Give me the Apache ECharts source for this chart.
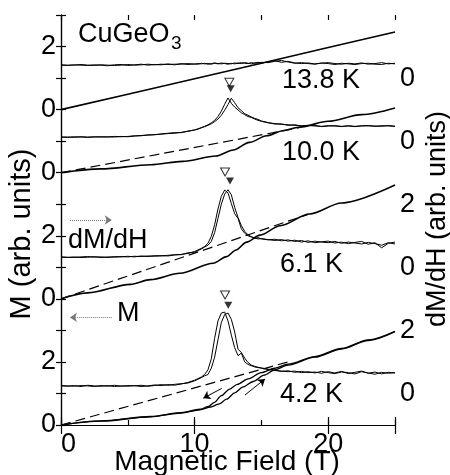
<!DOCTYPE html>
<html>
<head>
<meta charset="utf-8">
<title>CuGeO3 magnetization</title>
<script src="https://cdn.jsdelivr.net/npm/echarts@6.0.0/dist/echarts.min.js"></script>
<style>
  html, body { margin: 0; padding: 0; background: #fff; }
  #chart { width: 450px; height: 475px; }
</style>
</head>
<body>
<div id="chart"></div>
<script>
// ---- data ----
// field grid (T) shared by the dM/dH sweeps
var fields = [0, 0.5, 1, 1.5, 2, 2.5, 3, 3.5, 4, 4.5, 5, 5.5, 6, 6.5, 7, 7.5, 8, 8.5, 9, 9.5, 10,
  10.25, 10.5, 10.75, 11, 11.25, 11.5, 11.75, 12, 12.25, 12.5, 12.75, 13, 13.25, 13.5, 13.75, 14, 14.25, 14.5, 14.75, 15,
  15.5, 16, 16.5, 17, 17.5, 18, 18.5, 19, 19.5, 20, 20.5, 21, 21.5, 22, 22.5, 23, 23.5, 24, 24.5, 25];

// dM/dH, right-axis units (each temperature has its own zero)
var dmdh138Up = [0.41, 0.40, 0.42, 0.41, 0.40, 0.42, 0.41, 0.39, 0.42, 0.43, 0.40, 0.42, 0.44, 0.41, 0.43, 0.42, 0.45, 0.42, 0.46, 0.43, 0.45,
  0.44, 0.47, 0.45, 0.46, 0.44, 0.47, 0.45, 0.48, 0.46, 0.44, 0.47, 0.45, 0.48, 0.46, 0.49, 0.47, 0.45, 0.48, 0.50, 0.47,
  0.52, 0.55, 0.50, 0.53, 0.48, 0.46, 0.48, 0.45, 0.47, 0.49, 0.46, 0.44, 0.47, 0.45, 0.48, 0.44, 0.46, 0.49, 0.45, 0.47];
var dmdh138Down = [0.42, 0.41, 0.41, 0.43, 0.41, 0.40, 0.42, 0.41, 0.40, 0.41, 0.43, 0.41, 0.42, 0.44, 0.42, 0.44, 0.43, 0.44, 0.44, 0.46, 0.44,
  0.46, 0.45, 0.47, 0.44, 0.46, 0.48, 0.46, 0.45, 0.47, 0.46, 0.45, 0.48, 0.46, 0.49, 0.47, 0.46, 0.49, 0.47, 0.48, 0.50,
  0.49, 0.53, 0.56, 0.51, 0.47, 0.49, 0.46, 0.44, 0.48, 0.46, 0.43, 0.47, 0.45, 0.43, 0.46, 0.47, 0.44, 0.43, 0.47, 0.45];

var dmdh100Up = [0.13, 0.13, 0.12, 0.14, 0.13, 0.13, 0.14, 0.13, 0.15, 0.14, 0.15, 0.17, 0.17, 0.20, 0.20, 0.23, 0.25, 0.27, 0.27, 0.32, 0.35,
  0.38, 0.42, 0.46, 0.50, 0.55, 0.62, 0.70, 0.82, 0.98, 1.16, 1.36, 1.22, 1.06, 0.97, 0.87, 0.82, 0.77, 0.72, 0.69, 0.64,
  0.59, 0.54, 0.55, 0.50, 0.52, 0.48, 0.49, 0.50, 0.46, 0.48, 0.49, 0.47, 0.48, 0.46, 0.49, 0.48, 0.48, 0.47, 0.50, 0.47];
var dmdh100Down = [0.13, 0.12, 0.14, 0.13, 0.12, 0.14, 0.13, 0.14, 0.13, 0.15, 0.14, 0.16, 0.18, 0.19, 0.21, 0.22, 0.24, 0.25, 0.28, 0.31, 0.36,
  0.39, 0.43, 0.47, 0.52, 0.58, 0.66, 0.78, 0.95, 1.17, 1.37, 1.20, 1.08, 0.99, 0.90, 0.84, 0.78, 0.75, 0.70, 0.66, 0.63,
  0.58, 0.56, 0.53, 0.52, 0.50, 0.49, 0.50, 0.48, 0.47, 0.49, 0.48, 0.46, 0.49, 0.47, 0.48, 0.50, 0.47, 0.49, 0.48, 0.47];

var dmdh61Up = [0.33, 0.32, 0.31, 0.33, 0.34, 0.32, 0.33, 0.31, 0.34, 0.33, 0.35, 0.33, 0.36, 0.34, 0.37, 0.36, 0.38, 0.40, 0.40, 0.46, 0.48,
  0.53, 0.58, 0.64, 0.70, 0.82, 1.10, 1.55, 2.00, 2.32, 2.46, 2.30, 1.90, 1.58, 1.32, 1.14, 1.03, 0.97, 0.93, 0.90, 0.91,
  0.88, 0.85, 0.88, 0.83, 0.86, 0.80, 0.84, 0.78, 0.81, 0.83, 0.77, 0.80, 0.75, 0.79, 0.82, 0.73, 0.78, 0.62, 0.76, 0.80];
var dmdh61Down = [0.32, 0.31, 0.33, 0.31, 0.32, 0.34, 0.31, 0.33, 0.32, 0.34, 0.33, 0.35, 0.34, 0.36, 0.35, 0.37, 0.36, 0.39, 0.41, 0.44, 0.50,
  0.55, 0.60, 0.66, 0.76, 0.98, 1.35, 1.85, 2.25, 2.45, 2.36, 2.02, 1.70, 1.55, 1.22, 1.08, 1.00, 0.96, 0.92, 0.94, 0.90,
  0.87, 0.89, 0.84, 0.87, 0.82, 0.85, 0.79, 0.83, 0.80, 0.78, 0.82, 0.76, 0.80, 0.77, 0.74, 0.79, 0.75, 0.70, 0.78, 0.74];

var dmdh42Up = [0.25, 0.24, 0.23, 0.25, 0.24, 0.22, 0.25, 0.23, 0.26, 0.23, 0.25, 0.24, 0.26, 0.23, 0.25, 0.28, 0.26, 0.29, 0.31, 0.33, 0.40,
  0.45, 0.50, 0.56, 0.60, 0.80, 1.15, 1.70, 2.25, 2.50, 2.55, 2.35, 1.95, 1.40, 1.30, 1.12, 0.98, 0.90, 0.86, 0.83, 0.81,
  0.77, 0.74, 0.71, 0.69, 0.71, 0.66, 0.69, 0.65, 0.70, 0.66, 0.63, 0.68, 0.66, 0.62, 0.69, 0.65, 0.61, 0.67, 0.64, 0.66];
var dmdh42Down = [0.24, 0.23, 0.25, 0.22, 0.26, 0.24, 0.23, 0.25, 0.22, 0.24, 0.23, 0.25, 0.22, 0.24, 0.27, 0.25, 0.28, 0.26, 0.30, 0.35, 0.42,
  0.47, 0.52, 0.60, 0.75, 1.10, 1.75, 2.30, 2.55, 2.58, 2.30, 1.85, 1.45, 1.20, 1.28, 1.00, 0.92, 0.88, 0.84, 0.82, 0.80,
  0.76, 0.73, 0.70, 0.72, 0.67, 0.70, 0.66, 0.68, 0.64, 0.69, 0.65, 0.70, 0.63, 0.67, 0.71, 0.64, 0.68, 0.62, 0.67, 0.65];

// magnetization M, left-axis units (each temperature has its own zero)
var m138Field = [0, 5, 10, 15, 20, 25];
var m138 = [0, 0.49, 0.98, 1.47, 1.97, 2.46];
var m100Field = [0, 3, 6.7, 9.1, 11.6, 12.9, 14.1, 15.4, 16.6, 17.9, 20, 22.5, 25];
var m100 = [0, 0.12, 0.25, 0.36, 0.53, 0.72, 0.96, 1.17, 1.33, 1.45, 1.63, 1.84, 2.05];
var m61Field = [0, 2, 5.2, 6.7, 8.9, 11.4, 12.4, 13.1, 13.9, 14.9, 16.4, 18.6, 21, 25];
var m61 = [0, 0.19, 0.46, 0.61, 0.81, 1.13, 1.34, 1.55, 1.8, 2.02, 2.32, 2.69, 3.04, 3.61];
var m42UpField = [0, 3, 6.7, 9, 10.4, 11.2, 11.8, 12.4, 13, 13.6, 14.4, 15.2, 16, 17, 19, 21, 23, 25];
var m42Up = [0, 0.12, 0.26, 0.38, 0.48, 0.57, 0.66, 0.82, 1.02, 1.2, 1.38, 1.58, 1.75, 1.9, 2.15, 2.41, 2.68, 2.96];
var m42DownField = [0, 3, 6.7, 9, 10.4, 11, 11.5, 12, 12.6, 13.2, 14, 15, 16, 17, 19, 21, 23, 25];
var m42Down = [0, 0.13, 0.27, 0.39, 0.5, 0.58, 0.72, 0.93, 1.13, 1.29, 1.46, 1.66, 1.8, 1.93, 2.17, 2.43, 2.7, 2.97];

// dashed low-field extrapolations of M
var dash100Field = [0, 18];
var dash100 = [0, 1.44];
var dash61Field = [0, 18.5];
var dash61 = [0, 2.68];
var dash42Field = [0, 17];
var dash42 = [0, 2.0];

// transition field markers [field, dM/dH], open = down sweep, filled = up sweep
var openMarks = [[12.6, 1.87], [12.28, 3.02], [12.28, 3.12]];
var filledMarks = [[12.7, 1.66], [12.65, 2.74], [12.52, 2.8]];

// sweep arrows on the 4.2 K curve and the pointer arrows [from, to]
var sweepArrows = [[[12.03, 1.16], [10.65, 0.85]], [[13.77, 0.95], [15.27, 1.46]]];
var pointerArrows = [[[0.67, 6.5], [3.8, 6.5]], [[3.8, 3.41], [0.67, 3.41]]];

// tick labels
var leftLabels = { 0: '0', 2: '2', 4: '0', 6: '2', 8: '0', 10: '0', 12: '2' };
var rightLabels = { 1: '0', 3: '2', 5: '0', 7: '2', 9: '0', 11: '0' };
var xLabels = { 0: '0', 10: '10', 20: '20' };

// ---- layout: offsets of the stacked curves ----
var zeroM = { t138: 10, t100: 8, t61: 4, t42: 0 };
var zeroD = { t138: 11, t100: 9, t61: 5, t42: 1 };
var markZero = [zeroD.t100, zeroD.t61, zeroD.t42];

var FONT = '"Liberation Sans", Arial, Helvetica, sans-serif';

function shift(xs, ys, off) {
  var out = [];
  for (var i = 0; i < xs.length && i < ys.length; i++) {
    out.push([xs[i], ys[i] + off]);
  }
  return out;
}

function curve(data, width, dashed, smooth) {
  return {
    type: 'line',
    data: data,
    symbol: 'none',
    smooth: smooth ? 0.3 : false,
    smoothMonotone: 'x',
    silent: true,
    z: 3,
    lineStyle: { color: '#000', width: width, type: dashed ? [10, 5] : 'solid' }
  };
}

function text(str, x, y, size, opts) {
  opts = opts || {};
  return {
    type: 'text',
    x: x,
    y: y,
    rotation: opts.rotation || 0,
    silent: true,
    z: 20,
    style: {
      text: str,
      fill: '#000',
      font: size + 'px ' + FONT,
      align: opts.align || 'left',
      verticalAlign: 'middle'
    }
  };
}

var series = [
  // 13.8 K
  curve(shift(m138Field, m138, zeroM.t138), 1.6),
  curve(shift(fields, dmdh138Up, zeroD.t138), 1),
  curve(shift(fields, dmdh138Down, zeroD.t138), 1),
  // 10.0 K
  curve(shift(m100Field, m100, zeroM.t100), 1.6, false, true),
  curve(shift(dash100Field, dash100, zeroM.t100), 1.2, true),
  curve(shift(fields, dmdh100Up, zeroD.t100), 1),
  curve(shift(fields, dmdh100Down, zeroD.t100), 1),
  // 6.1 K
  curve(shift(m61Field, m61, zeroM.t61), 1.6, false, true),
  curve(shift(dash61Field, dash61, zeroM.t61), 1.2, true),
  curve(shift(fields, dmdh61Up, zeroD.t61), 1),
  curve(shift(fields, dmdh61Down, zeroD.t61), 1),
  // 4.2 K
  curve(shift(m42UpField, m42Up, zeroM.t42), 1.3, false, true),
  curve(shift(m42DownField, m42Down, zeroM.t42), 1.3, false, true),
  curve(shift(dash42Field, dash42, zeroM.t42), 1.2, true),
  curve(shift(fields, dmdh42Up, zeroD.t42), 1),
  curve(shift(fields, dmdh42Down, zeroD.t42), 1),
  {
    type: 'scatter',
    data: openMarks.map(function (p, i) { return [p[0], p[1] + markZero[i]]; }),
    symbol: 'triangle',
    symbolRotate: 180,
    symbolSize: [9, 8],
    silent: true,
    z: 5,
    itemStyle: { color: '#fff', borderColor: '#000', borderWidth: 1 }
  },
  {
    type: 'scatter',
    data: filledMarks.map(function (p, i) { return [p[0], p[1] + markZero[i]]; }),
    symbol: 'triangle',
    symbolRotate: 180,
    symbolSize: [8, 7],
    silent: true,
    z: 5,
    itemStyle: { color: '#000' }
  },
  {
    type: 'lines',
    coordinateSystem: 'cartesian2d',
    data: sweepArrows.map(function (c) { return { coords: c }; }),
    symbol: ['none', 'arrow'],
    symbolSize: 7,
    silent: true,
    z: 4,
    lineStyle: { color: '#000', width: 1, opacity: 1 }
  },
  {
    type: 'lines',
    coordinateSystem: 'cartesian2d',
    data: pointerArrows.map(function (c) { return { coords: c }; }),
    symbol: ['none', 'arrow'],
    symbolSize: 7,
    silent: true,
    z: 4,
    lineStyle: { color: '#777', width: 1, type: 'dotted', opacity: 1 }
  }
];

var axisLineStyle = { lineStyle: { color: '#000', width: 1.2 } };
var tickStyle = { lineStyle: { color: '#000', width: 1.2 } };
var labelStyle = { color: '#000', fontSize: 27, fontFamily: FONT };

var option = {
  animation: false,
  backgroundColor: '#fff',
  grid: [
    { left: 61, right: 55, top: 15, bottom: 50 },
    { left: 61, right: 55, top: 15, bottom: 50 }
  ],
  xAxis: [
    {
      type: 'value', gridIndex: 0, position: 'bottom', min: 0, max: 25, interval: 10,
      axisLine: axisLineStyle,
      axisTick: Object.assign({ inside: true, length: 8 }, tickStyle),
      splitLine: { show: false },
      axisLabel: Object.assign({
        margin: 6,
        alignMinLabel: 'left',
        formatter: function (v) { return xLabels[v] || ''; }
      }, labelStyle)
    },
    {
      type: 'value', gridIndex: 0, position: 'top', min: 0, max: 25, interval: 10,
      axisLine: axisLineStyle,
      axisTick: Object.assign({ inside: true, length: 9 }, tickStyle),
      splitLine: { show: false },
      axisLabel: { show: false }
    },
    {
      type: 'value', gridIndex: 1, position: 'bottom', min: 0, max: 25, interval: 5,
      axisLine: { show: false },
      axisTick: Object.assign({ inside: true, length: 5 }, tickStyle),
      splitLine: { show: false },
      axisLabel: { show: false }
    },
    {
      type: 'value', gridIndex: 1, position: 'top', min: 0, max: 25, interval: 5,
      axisLine: { show: false },
      axisTick: Object.assign({ inside: true, length: 5 }, tickStyle),
      splitLine: { show: false },
      axisLabel: { show: false }
    }
  ],
  yAxis: [
    {
      type: 'value', gridIndex: 0, position: 'left', min: 0, max: 13, interval: 1,
      axisLine: axisLineStyle,
      axisTick: Object.assign({ inside: true, length: 5 }, tickStyle),
      splitLine: { show: false },
      axisLabel: Object.assign({
        margin: 5,
        formatter: function (v) { return leftLabels[v] || ''; }
      }, labelStyle)
    },
    {
      type: 'value', gridIndex: 0, position: 'right', min: 0, max: 13, interval: 1,
      axisLine: axisLineStyle,
      axisTick: Object.assign({ inside: true, length: 5 }, tickStyle),
      splitLine: { show: false },
      axisLabel: Object.assign({
        margin: 5,
        formatter: function (v) { return rightLabels[v] || ''; }
      }, labelStyle)
    },
    {
      type: 'value', gridIndex: 1, min: 0, max: 13, show: false
    }
  ],
  series: series,
  graphic: [
    text('CuGeO', 78, 35, 27),
    text('3', 171, 44, 19),
    text('13.8 K', 282, 81, 27),
    text('10.0 K', 282, 153, 27),
    text('6.1 K', 280, 265, 27),
    text('4.2 K', 280, 395, 27),
    text('dM/dH', 68, 241, 27),
    text('M', 117, 314, 27),
    text('M (arb. units)', 22, 234, 29, { align: 'center', rotation: Math.PI / 2 }),
    text('dM/dH (arb. units)', 438, 219, 27, { align: 'center', rotation: Math.PI / 2 }),
    text('Magnetic Field (T)', 227, 462, 28, { align: 'center' })
  ]
};

var chart = echarts.init(document.getElementById('chart'));
chart.setOption(option);
</script>
</body>
</html>
